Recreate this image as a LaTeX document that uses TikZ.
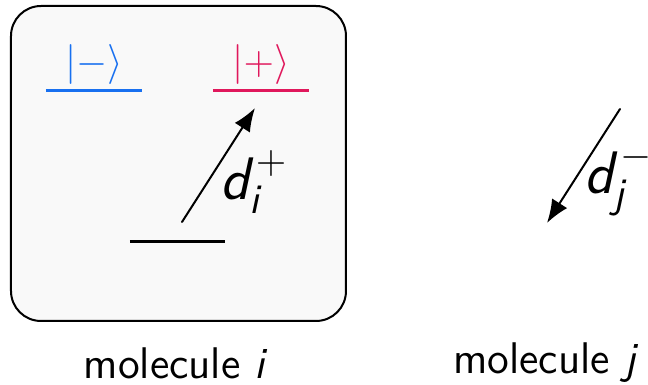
\documentclass[tikz,border=0pt]{standalone}
\usepackage{amsmath,amssymb}
\usepackage{tikz}
\usetikzlibrary{arrows.meta,positioning}
\definecolor{ketminus}{RGB}{24,112,240}
\definecolor{ketplus}{RGB}{224,24,92}

\begin{document}
\begin{tikzpicture}[x=0.3pt,y=-0.3pt,line cap=round,line join=round,
  font=\sffamily\fontsize{13.3}{16}\selectfont,
  molbox/.style={draw=black,line width=.6pt,fill=black!2.5,rounded corners=9pt},
  level/.style={line width=.9pt,line cap=butt},
  dipole/.style={-{Latex[length=7pt,width=5.4pt]},line width=.6pt},
  ketlabel/.style={inner sep=0pt,font=\sffamily\fontsize{12}{14}\selectfont},
  diplabel/.style={inner sep=0pt,font=\sffamily\fontsize{18}{21}\selectfont}]
\path[use as bounding box] (0,0) rectangle (648,385);
\draw[molbox] (11,6) rectangle (346,321);
% energy levels of molecule i
\draw[level,ketminus] (46,91) coordinate (mL) -- (142,91) coordinate (mR);
\draw[level,ketplus] (213,91) coordinate (pL) -- (309,91) coordinate (pR);
\draw[level,black] (130,242) coordinate (gL) -- (225,242) coordinate (gR);
\node[ketlabel,text=ketminus] (ketm) at (94,64) {$|{-}\rangle$};
\node[ketlabel,text=ketplus] (ketp) at (261,64) {$|{+}\rangle$};
% transition dipoles
\coordinate (di0) at (182,222);
\coordinate (di1) at (255,108);
\coordinate (dj0) at (620,109);
\coordinate (dj1) at (547,223);
\draw[dipole] (di0) -- (di1);
\draw[dipole] (dj0) -- (dj1);
\node[diplabel] (dilabel) at (254,182) {$\textsl{d}_{\textsl{i}}^{\,+}$};
\node[diplabel] (djlabel) at (619,180) {$\textsl{d}_{\textsl{j}}^{\,-}$};
% captions
\node (capi) at (176,363) {molecule \textsl{i}};
\node (capj) at (546,363) {molecule \textsl{j}};
\end{tikzpicture}
\end{document}
